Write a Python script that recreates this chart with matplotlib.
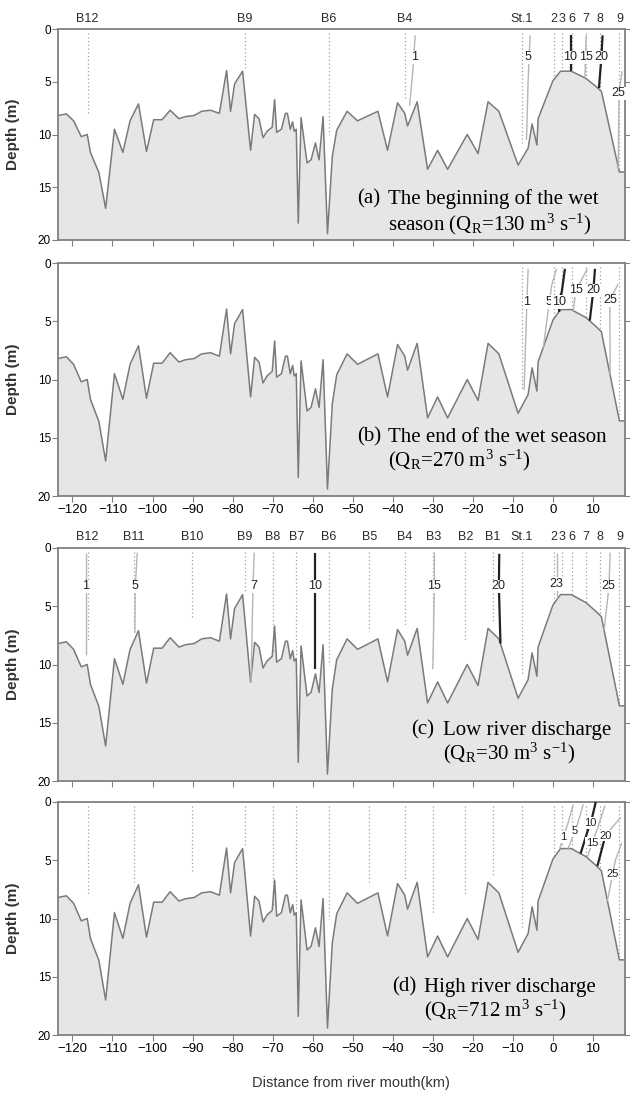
import matplotlib.pyplot as plt
import numpy as np

plt.rcParams['font.family'] = ['Liberation Sans', 'DejaVu Sans']
plt.rcParams['mathtext.fontset'] = 'custom'
plt.rcParams['mathtext.rm'] = 'Liberation Serif'
plt.rcParams['mathtext.it'] = 'Liberation Serif:italic'
NARROW = ['Liberation Sans Narrow', 'Liberation Sans']
SERIF = ['Liberation Serif', 'DejaVu Serif']

# bottom profile along the estuary
dist_km = [-123.6, -121.5, -119.7, -117.8, -116.3, -115.5, -113.4, -111.7, -109.5, -107.4,
           -105.6, -103.5, -101.5, -99.7, -97.6, -95.6, -93.4, -91.7, -89.6, -87.7,
           -85.5, -83.3, -81.5, -80.5, -79.5, -77.5, -75.5, -74.5, -73.4, -72.4,
           -71.4, -70.1, -69.5, -69.0, -67.8, -66.8, -66.3, -65.6, -65.0, -64.6,
           -64.1, -63.6, -62.9, -61.4, -60.4, -59.3, -58.4, -57.4, -56.3, -55.1,
           -54.0, -51.4, -48.8, -43.7, -41.3, -38.8, -37.0, -36.3, -33.9, -31.3,
           -28.8, -26.3, -21.4, -18.7, -16.2, -13.5, -8.7, -6.2, -5.2, -4.0,
           -3.7, 0.0, 1.9, 4.6, 8.3, 10.6, 12.1, 16.6, 18.0]
depth_m = [8.2, 8.05, 8.7, 10.2, 10.0, 11.7, 13.6, 17.0, 9.5, 11.7,
           8.7, 7.1, 11.6, 8.6, 8.6, 7.7, 8.5, 8.3, 8.2, 7.8,
           7.7, 8.0, 3.95, 7.8, 5.2, 4.0, 11.5, 8.1, 8.5, 10.3,
           9.7, 9.3, 6.7, 9.8, 9.5, 8.0, 8.0, 9.5, 8.8, 9.7,
           9.5, 18.4, 8.4, 12.7, 12.4, 10.8, 12.4, 8.3, 19.4, 12.1,
           9.6, 7.8, 8.7, 7.8, 11.5, 7.0, 8.0, 9.2, 6.9, 13.3,
           11.5, 13.3, 10.0, 11.8, 6.9, 7.8, 12.9, 11.3, 9.0, 11.0,
           8.5, 4.9, 4.0, 4.0, 4.7, 5.4, 5.9, 13.55, 13.55]

# survey stations
st_names = ['B12', 'B11', 'B10', 'B9', 'B8', 'B7', 'B6', 'B5', 'B4', 'B3', 'B2', 'B1',
            'St.1', '2', '3', '6', '7', '8', '9']
st_km = [-116.2, -104.7, -90.1, -77.0, -70.0, -64.1, -55.9, -45.9, -36.9, -29.9, -21.9, -15.0,
         -7.8, 0.2, 2.2, 4.8, 8.3, 11.7, 16.6]
st_depth = [8.0, 7.1, 6.1, 3.7, 9.0, 9.2, 10.0, 7.1, 6.7, 9.5, 8.1, 6.4,
            10.8, 4.7, 4.0, 4.0, 4.6, 5.8, 13.3]

st_a = ['B12', 'B9', 'B6', 'B4', 'St.1', '2', '3', '6', '7', '8', '9']
st_b = ['St.1', '2', '3', '6', '7', '8', '9']
st_c = st_names
st_d = st_names

# isohalines: label -> (km list, depth list, label position)
iso_a = {
    '1': ([-34.4, -35.0, -35.8], [0.6, 4.0, 7.3], (-34.6, 2.7)),
    '5': ([-5.7, -6.2, -6.6], [0.6, 5.0, 10.5], (-6.2, 2.7)),
    '10': ([4.4, 4.4], [0.6, 4.0], (4.3, 2.7)),
    '15': ([8.3, 8.0], [0.6, 4.6], (8.2, 2.7)),
    '20': ([12.4, 12.1, 11.5], [0.6, 2.7, 5.6], (12.1, 2.7)),
    '25': ([17.3, 16.5, 16.3], [4.0, 6.0, 13.3], (16.4, 6.1)),
}
iso_b = {
    '1': ([-6.2, -6.5, -7.2], [0.5, 3.35, 10.9], (-6.5, 3.35)),
    '5': ([0.9, -0.3, -0.9, -2.4], [0.5, 1.9, 3.35, 7.25], (-1.0, 3.35)),
    '10': ([3.0, 2.2, 1.3, 1.6], [0.5, 2.5, 3.35, 4.2], (1.5, 3.35)),
    '15': ([8.6, 6.3, 5.7, 5.1], [0.5, 2.0, 2.35, 4.1], (5.8, 2.35)),
    '20': ([10.5, 10.1, 9.2], [0.5, 2.35, 4.95], (10.1, 2.35)),
    '25': ([16.3, 14.2, 14.3], [1.8, 3.2, 9.6], (14.2, 3.2)),
}
iso_c = {
    '1': ([-116.5, -116.5], [0.4, 9.2], (-116.6, 3.3)),
    '5': ([-103.8, -104.3, -104.4], [0.4, 3.3, 7.3], (-104.4, 3.3)),
    '7': ([-74.6, -74.9, -75.4], [0.4, 3.3, 11.4], (-74.8, 3.3)),
    '10': ([-59.4, -59.4], [0.4, 10.4], (-59.4, 3.3)),
    '15': ([-29.6, -29.6, -30.0], [0.4, 3.3, 10.4], (-29.6, 3.3)),
    '20': ([-13.4, -13.5, -13.1], [0.5, 3.3, 8.2], (-13.6, 3.3)),
    '23': ([0.9, 0.9], [0.4, 4.3], (0.8, 3.1)),
    '25': ([14.3, 14.0, 12.8], [0.4, 3.3, 7.0], (13.9, 3.3)),
}
iso_d = {
    '1': ([5.1, 3.6, 2.6, 1.7], [0.2, 2.0, 3.0, 4.0], (2.6, 3.0)),
    '5': ([7.6, 6.2, 5.5, 3.8], [0.2, 1.8, 2.5, 4.0], (5.5, 2.5)),
    '10': ([10.7, 9.8, 9.3, 6.9], [0.0, 1.3, 1.8, 4.43], (9.3, 1.8)),
    '15': ([13.0, 11.0, 9.8, 8.6], [0.3, 2.4, 3.5, 4.75], (9.8, 3.5)),
    '20': ([13.1, 11.1], [2.9, 5.5], (13.1, 2.9)),
    '20 upper': ([17.0, 14.5, 13.1], [1.3, 2.3, 2.9], None),
    '25': ([17.2, 15.6, 14.9, 13.6], [3.5, 5.0, 6.2, 8.5], (14.9, 6.2)),
}

tags = ['(a)', '(b)', '(c)', '(d)']
line1 = ['The beginning of the wet', 'The end of the wet season',
         'Low river discharge', 'High river discharge']
q_vals = ['130', '270', '30', '712']
line2_pre = ['season ', '', '', '']

fig = plt.figure(figsize=(6.3, 10.95), dpi=100)
W, H = 630, 1095
left, right = 58, 625
boxes = [(29, 240), (263, 496), (548, 781), (802, 1035)]
stations = [st_a, st_b, st_c, st_d]
isos = [iso_a, iso_b, iso_c, iso_d]
show_st_lbl = [True, False, True, False]
show_xtl = [False, True, False, True]
iso_fs = [9, 9, 9, 8]
# text placement (axes fraction): tag x, body x, baseline 1, baseline 2
txt_pos = [(0.527, 0.582, 0.171, 0.047), (0.527, 0.582, 0.233, 0.126),
           (0.622, 0.679, 0.199, 0.092), (0.590, 0.645, 0.186, 0.079)]

gray = '#808080'
for i in range(4):
    top, bot = boxes[i]
    ax = fig.add_axes([left / W, 1 - bot / H, (right - left) / W, (bot - top) / H])
    ax.fill_between(dist_km, depth_m, 20, color='#e6e6e6', lw=0, zorder=1)
    ax.plot(dist_km, depth_m, color='#7a7a7a', lw=1.1, zorder=3)

    for name, k, d in zip(st_names, st_km, st_depth):
        if name not in stations[i]:
            continue
        ax.plot([k, k], [0.35, d], color='#a0a0a0', lw=0.9, ls=(0, (1, 2)), zorder=2)
        if show_st_lbl[i]:
            ax.text(k, 1.02, name, transform=ax.get_xaxis_transform(), ha='center',
                    va='bottom', fontsize=9, family=NARROW, color='#2a2a2a')

    for lbl, (xs, ys, lpos) in isos[i].items():
        dark = lbl in ('10', '20')
        ax.plot(xs, ys, color='#222222' if dark else '#b5b5b5', lw=1.6 if dark else 1.0,
                zorder=4, solid_capstyle='butt')
        if lpos is None:
            continue
        ax.text(lpos[0], lpos[1], lbl, ha='center', va='center', fontsize=iso_fs[i],
                family=NARROW, color='#222222', zorder=5,
                bbox=dict(boxstyle='square,pad=0.05', fc='white', ec='none'))

    tx, bx, y1, y2 = txt_pos[i]
    ax.text(tx, y1, tags[i], transform=ax.transAxes, ha='left', va='baseline',
            fontsize=15, family=SERIF, zorder=6)
    ax.text(bx, y1, line1[i], transform=ax.transAxes, ha='left', va='baseline',
            fontsize=15, family=SERIF, zorder=6)
    ax.text(bx, y2, line2_pre[i] + '(Q$_\\mathrm{R}$=' + q_vals[i] +
            ' m$^\\mathrm{3}$ s$^\\mathrm{-1}$)', transform=ax.transAxes, ha='left',
            va='baseline', fontsize=15, family=SERIF, zorder=6)

    ax.set_xlim(-123.6, 18)
    ax.set_ylim(20, 0)
    ax.set_xticks(np.arange(-120, 11, 10))
    ax.set_yticks([0, 5, 10, 15, 20])
    ax.tick_params(axis='x', direction='out', length=4, color=gray, labelsize=9.5,
                   labelbottom=show_xtl[i], pad=2)
    ax.tick_params(axis='y', direction='out', length=4, color=gray, labelsize=8.5,
                   right=True, pad=1)
    for s in ax.spines.values():
        s.set_color(gray)
        s.set_linewidth(1.3)
    ax.set_ylabel('Depth (m)', fontsize=11, fontweight='bold', color='#333333')
    ax.yaxis.set_label_coords(-0.067, 0.5)

fig.text((left + right) / 2 / W + 0.015, 0.011, 'Distance from river mouth(km)',
         ha='center', va='center', fontsize=10.5, color='#333333')
fig.savefig('out.png', dpi=100)
